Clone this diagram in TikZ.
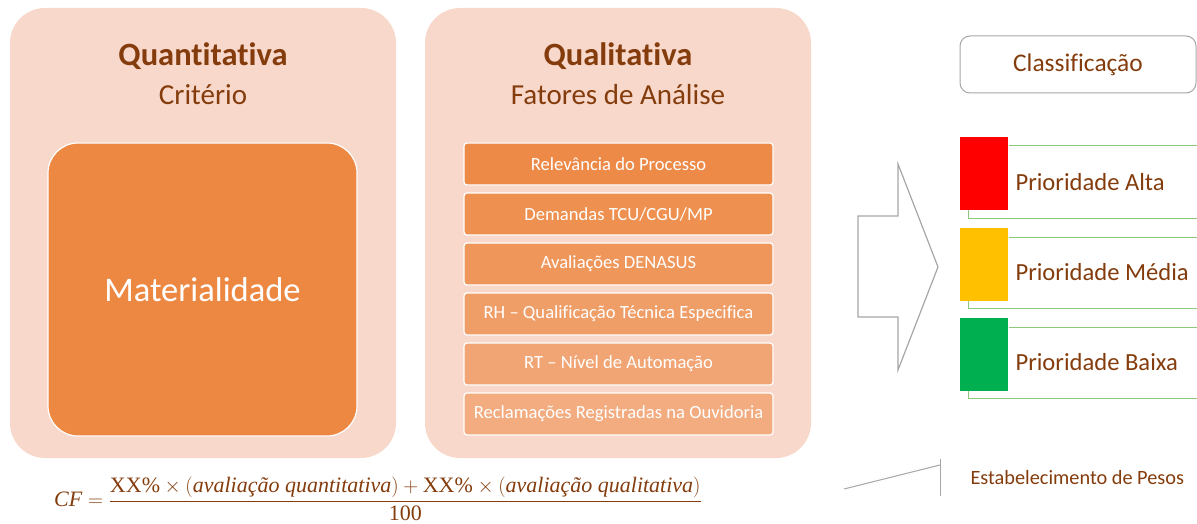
\documentclass[tikz,border=0pt]{standalone}
\usepackage{amsmath}
\usepackage{fontspec}
\setmainfont{Carlito}[Ligatures=CommonOff]
\newfontfamily\fserif{Liberation Serif}
\definecolor{txtbrown}{HTML}{843C0C}
\definecolor{panelfill}{HTML}{F8D8CB}
\definecolor{matfill}{HTML}{ED8843}
\definecolor{fA}{HTML}{ED8A48}
\definecolor{fB}{HTML}{EE904F}
\definecolor{fC}{HTML}{EF965A}
\definecolor{fD}{HTML}{F09E68}
\definecolor{fE}{HTML}{F1A574}
\definecolor{fF}{HTML}{F2AC80}
\definecolor{glinec}{HTML}{8CC97A}
\definecolor{redsq}{HTML}{FF0000}
\definecolor{yelsq}{HTML}{FFC000}
\definecolor{grnsq}{HTML}{00B050}
\definecolor{arrowgray}{HTML}{A6A6A6}
\tikzset{
  panel/.style={fill=panelfill, draw=none, rounded corners=35, minimum width=386, minimum height=450, inner sep=0},
  title/.style={text=txtbrown, font=\bfseries\fontsize{32.5}{36}\selectfont},
  subtitle/.style={text=txtbrown, font=\fontsize{29}{33}\selectfont},
  fbox/.style={draw=white, line width=1.2, rounded corners=3, minimum width=309, minimum height=42, inner sep=0, text=white, font=\fontsize{18.6}{22}\selectfont},
  prio/.style={text=txtbrown, font=\fontsize{24.6}{28}\selectfont, anchor=west},
  sq/.style={draw=white, line width=0.8, minimum width=49, minimum height=74, inner sep=0},
  gline/.style={draw=glinec, line width=1},
}
\begin{document}
\begin{tikzpicture}[x=1pt,y=-1pt]
\useasboundingbox (0,0) rectangle (1197,524);
% panels
\node[panel] (qpanel) at (203,233) {};
\node[panel] (lpanel) at (618,233) {};
\node[title] (qt) at (203,56) {Quantitativa};
\node[subtitle] (qs) at (203,95) {Critério};
\node[title] (lt) at (618,56) {Qualitativa};
\node[subtitle] (ls) at (618,95) {Fatores de Análise};
\node[draw=white, line width=1.2, fill=matfill, rounded corners=30, minimum width=309, minimum height=293, inner sep=0, text=white, font=\fontsize{34.5}{38}\selectfont] (mat) at (202.5,289.5) {Materialidade};
% factor boxes
\node[fbox, fill=fA] (f1) at (618.5,164) {Relevância do Processo};
\node[fbox, fill=fB] (f2) at (618.5,214) {Demandas TCU/CGU/MP};
\node[fbox, fill=fC] (f3) at (618.5,264) {Avaliações DENASUS};
\node[fbox, fill=fD] (f4) at (618.5,314) {RH – Qualificação Técnica Especifica};
\node[fbox, fill=fE] (f5) at (618.5,364) {RT – Nível de Automação};
\node[fbox, fill=fF] (f6) at (618.5,414) {Reclamações Registradas na Ouvidoria};
% big arrow
\draw[arrowgray, line width=1.2, line join=miter] (858,216) -- (898,216) -- (898,164) -- (938,267) -- (898,370) -- (898,317) -- (858,317) -- cycle;
% classification
\node[draw=arrowgray, line width=1, rounded corners=10, minimum width=236, minimum height=57, inner sep=0, text=txtbrown, font=\fontsize{25.4}{29}\selectfont] (cls) at (1078,64.5) {Classificação};
% priority squares
\node[sq, fill=redsq] (sr) at (984,173.5) {};
\node[sq, fill=yelsq] (sy) at (984,264) {};
\node[sq, fill=grnsq] (sg) at (984,354) {};
\draw[gline] (sr.north east |- 0,146) -- (1197,146);
\draw[gline] (968,210) -- (968,218) -- (1197,218);
\draw[gline] (sy.north east |- 0,237) -- (1197,237);
\draw[gline] (968,301) -- (968,308) -- (1197,308);
\draw[gline] (sg.north east |- 0,327) -- (1197,327);
\draw[gline] (968,391) -- (968,398) -- (1197,398);
\node[prio] (pa) at (1012,182) {Prioridade Alta};
\node[prio] (pm) at (1012,272) {Prioridade Média};
\node[prio] (pb) at (1012,362) {Prioridade Baixa};
% pesos
\coordinate (wa) at (844,489);
\coordinate (wb) at (940,465);
\draw[arrowgray, line width=1] (wa) -- (wb);
\draw[arrowgray, line width=1] (940,459) -- (940,496);
\node[text=txtbrown, font=\fontsize{20.3}{24}\selectfont, anchor=west] (pesos) at (967,478) {Estabelecimento de Pesos};
% formula
\node[text=txtbrown, font=\fserif\fontsize{22}{26}\selectfont, inner sep=0] (cf) at (378,499) {$\textit{CF} = \dfrac{\text{XX\%} \times (\textit{avaliação quantitativa}) + \text{XX\%} \times (\textit{avaliação qualitativa})}{\text{100}}$};
\end{tikzpicture}
\end{document}
